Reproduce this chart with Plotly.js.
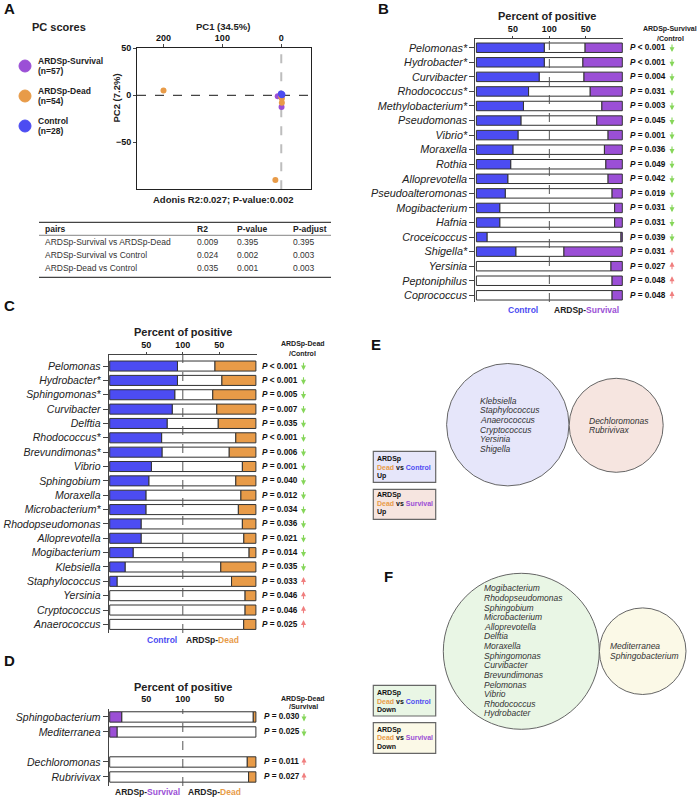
<!DOCTYPE html>
<html>
<head>
<meta charset="utf-8">
<script src="https://cdn.plot.ly/plotly-3.0.1.min.js"></script>
<style>html,body{margin:0;padding:0;background:#fff;}#chart{width:699px;height:798px;}</style>
</head>
<body>
<div id="chart"></div>
<script>
// ---------------- DATA ----------------
// Panel A: PCoA scores
const groupNames = ['ARDSp-Survival', 'ARDSp-Dead', 'Control'];
const groupN = [57, 54, 28];
const survPC1 = [6, 0.5, -0.5, 1];
const survPC2 = [-1, -1, -12.5, 0.5];
const deadPC1 = [200, 10, -1, -1, 0];
const deadPC2 = [5, -90, -3.5, -8, -1.5];
const ctrlPC1 = [-1, -1, 0, -2, 0.5];
const ctrlPC2 = [1.5, 0, 1, 0.5, 2];
const pc1Ticks = [200, 100, 0];
const pc2Ticks = [50, 0, -50];

// Adonis pairwise table
const tableHeader = ['pairs', 'R2', 'P-value', 'P-adjust'];
const tablePairs = ['ARDSp-Survival vs ARDSp-Dead', 'ARDSp-Survival vs Control', 'ARDSp-Dead vs Control'];
const tableR2 = ['0.009', '0.024', '0.035'];
const tablePval = ['0.395', '0.002', '0.001'];
const tablePadj = ['0.395', '0.003', '0.003'];

// Panel B: Control vs ARDSp-Survival (percent positive)
const bNames = ['Pelomonas*', 'Hydrobacter*', 'Curvibacter', 'Rhodococcus*', 'Methylobacterium*', 'Pseudomonas', 'Vibrio*', 'Moraxella', 'Rothia', 'Alloprevotella', 'Pseudoalteromonas', 'Mogibacterium', 'Hafnia', 'Croceicoccus', 'Shigella*', 'Yersinia', 'Peptoniphilus', 'Coprococcus'];
const bControl = [93, 93, 86, 71.5, 64.5, 61, 57, 50, 47, 43, 39.5, 32, 32, 14.5, 54, 0, 0, 0];
const bSurvival = [51, 54, 52.5, 44, 28, 35, 19.5, 24.5, 22.5, 19.5, 14, 10.5, 10.5, 1.8, 80, 15.5, 14, 14];
const bP = ['< 0.001', '< 0.001', '= 0.004', '= 0.031', '= 0.003', '= 0.045', '= 0.001', '= 0.036', '= 0.049', '= 0.042', '= 0.019', '= 0.031', '= 0.031', '= 0.039', '= 0.031', '= 0.027', '= 0.048', '= 0.048'];
const bDir = ['down', 'down', 'down', 'down', 'down', 'down', 'down', 'down', 'down', 'down', 'down', 'down', 'down', 'down', 'up', 'up', 'up', 'up'];

// Panel C: Control vs ARDSp-Dead
const cNames = ['Pelomonas', 'Hydrobacter*', 'Sphingomonas*', 'Curvibacter', 'Delftia', 'Rhodococcus*', 'Brevundimonas*', 'Vibrio', 'Sphingobium', 'Moraxella', 'Microbacterium*', 'Rhodopseudomonas', 'Alloprevotella', 'Mogibacterium', 'Klebsiella', 'Staphylococcus', 'Yersinia', 'Cryptococcus', 'Anaerococcus'];
const cControl = [92.7, 92.7, 89, 85.5, 78.5, 71, 71.5, 57, 53.5, 49.5, 49.5, 42.9, 42.9, 32, 21, 10, 0, 0, 0];
const cDead = [56, 46.5, 59, 53.5, 51.5, 27.5, 36.5, 18.5, 27.5, 20.5, 24, 18.5, 16.5, 9.3, 48, 33.3, 14.8, 14.8, 16.7];
const cP = ['< 0.001', '< 0.001', '= 0.005', '= 0.007', '= 0.035', '< 0.001', '= 0.006', '= 0.001', '= 0.040', '= 0.012', '= 0.034', '= 0.036', '= 0.021', '= 0.014', '= 0.035', '= 0.033', '= 0.046', '= 0.046', '= 0.025'];
const cDir = ['down', 'down', 'down', 'down', 'down', 'down', 'down', 'down', 'down', 'down', 'down', 'down', 'down', 'down', 'down', 'up', 'up', 'up', 'up'];

// Panel D: ARDSp-Survival vs ARDSp-Dead
const dNames = ['Sphingobacterium', 'Mediterranea', 'Dechloromonas', 'Rubrivivax'];
const dSurvival = [16.4, 10, 0, 0];
const dDead = [3.6, 0, 11.8, 10];
const dP = ['= 0.030', '= 0.025', '= 0.011', '= 0.027'];
const dDir = ['down', 'down', 'up', 'up'];

// Percent axis ticks
const pctTickVals = [-50, 0, 50];
const pctTickText = ['50', '100', '50'];

// Panels E / F: Venn sets
const vennEup1 = ['Klebsiella', 'Staphylococcus', 'Anaerococcus', 'Cryptococcus', 'Yersinia', 'Shigella'];
const vennEup2 = ['Dechloromonas', 'Rubrivivax'];
const vennFdown1 = ['Mogibacterium', 'Rhodopseudomonas', 'Sphingobium', 'Microbacterium', 'Alloprevotella', 'Delftia', 'Moraxella', 'Sphingomonas', 'Curvibacter', 'Brevundimonas', 'Pelomonas', 'Vibrio', 'Rhodococcus', 'Hydrobacter'];
const vennFdown2 = ['Mediterranea', 'Sphingobacterium'];

// ---------------- STYLE ----------------
const W = 699, H = 798;
const X = p => p / W, Y = p => 1 - p / H;
const FONT = 'Liberation Sans, Arial, Helvetica, sans-serif';
const BLUE = '#4c4cf2', PURPLE = '#9b4fd6', ORANGE = '#e89b48';
const GREEN_ARROW = '#86d65a', RED_ARROW = '#f07f7f';
const OUT = '#333333';
const sBlue = `<span style="color:${BLUE}">`, sPur = `<span style="color:${PURPLE}">`, sOr = `<span style="color:${ORANGE}">`;

const annotations = [];
const shapes = [];
function ann(text, px, py, o = {}) {
  annotations.push(Object.assign({
    text, x: X(px), y: Y(py), xref: 'paper', yref: 'paper', showarrow: false,
    xanchor: 'center', yanchor: 'middle',
    font: { family: FONT, size: o.size || 9, color: o.color || '#222' }
  }, o.extra || {}, { xanchor: o.xa || 'center' }));
}
function circlePx(cx, cy, r, fill, line) {
  shapes.push({ type: 'circle', xref: 'paper', yref: 'paper', x0: X(cx - r), x1: X(cx + r), y0: Y(cy + r), y1: Y(cy - r),
    fillcolor: fill, line: { color: line || '#666', width: 1 }, layer: 'below' });
}
function rectPx(x0, y0, x1, y1, fill, line) {
  shapes.push({ type: 'rect', xref: 'paper', yref: 'paper', x0: X(x0), x1: X(x1), y0: Y(y1), y1: Y(y0),
    fillcolor: fill, line: { color: line || '#666', width: 1.2 }, layer: 'below' });
}
function linePx(x0, y0, x1, y1, w, c) {
  shapes.push({ type: 'line', xref: 'paper', yref: 'paper', x0: X(x0), x1: X(x1), y0: Y(y0), y1: Y(y1), line: { color: c || '#444', width: w } });
}

const traces = [];

// ---------------- PANEL A ----------------
traces.push({ type: 'scatter', mode: 'markers', x: survPC1, y: survPC2, xaxis: 'x', yaxis: 'y', marker: { color: PURPLE, size: 6 }, showlegend: false, hoverinfo: 'skip' });
traces.push({ type: 'scatter', mode: 'markers', x: deadPC1, y: deadPC2, xaxis: 'x', yaxis: 'y', marker: { color: ORANGE, size: 6 }, showlegend: false, hoverinfo: 'skip' });
traces.push({ type: 'scatter', mode: 'markers', x: ctrlPC1, y: ctrlPC2, xaxis: 'x', yaxis: 'y', marker: { color: BLUE, size: 6 }, showlegend: false, hoverinfo: 'skip' });
shapes.push({ type: 'line', xref: 'x', yref: 'y domain', x0: 0, x1: 0, y0: 0, y1: 1, line: { color: '#bdbdbd', width: 2, dash: 'dash' }, layer: 'below' });
shapes.push({ type: 'line', xref: 'x domain', yref: 'y', x0: 0, x1: 1, y0: 0, y1: 0, line: { color: '#444', width: 1.2, dash: 'dash' }, layer: 'below' });

ann('<b>A</b>', 9, 9, { size: 15, color: '#111' });
ann('<b>PC scores</b>', 59, 27, { size: 11 });
const legColors = [PURPLE, ORANGE, BLUE];
const legY = [66, 96, 126];
groupNames.forEach((g, i) => {
  circlePx(25, legY[i], 6, legColors[i], legColors[i]);
  ann(`<b>${g}</b>`, 36, legY[i] - 5, { size: 8.5, xa: 'left' });
  ann(`<b>(n=${groupN[i]})</b>`, 36, legY[i] + 5, { size: 8.5, xa: 'left' });
});
ann('<b>PC1 (34.5%)</b>', 223, 26.5, { size: 9.5 });
ann('<b>PC2 (7.2%)</b>', 116.5, 98, { size: 9.5, extra: { textangle: -90 } });
ann('<b>Adonis R2:0.027; P-value:0.002</b>', 223, 199, { size: 9.5 });

// table
const colX = [42.5, 195, 235, 290.5];
const rowY = [242.3, 255, 267.7];
linePx(39, 222.3, 331, 222.3, 1.3, '#444');
linePx(39, 235.3, 331, 235.3, 0.8, '#666');
linePx(39, 277.3, 331, 277.3, 1.3, '#444');
tableHeader.forEach((h, j) => ann(`<b>${h}</b>`, colX[j], 229.3, { size: 8.5, xa: 'left' }));
tablePairs.forEach((p, i) => {
  ann(p, colX[0], rowY[i], { size: 8.5, xa: 'left', color: '#333' });
  ann(tableR2[i], colX[1], rowY[i], { size: 8.5, xa: 'left', color: '#333' });
  ann(tablePval[i], colX[2], rowY[i], { size: 8.5, xa: 'left', color: '#333' });
  ann(tablePadj[i], colX[3], rowY[i], { size: 8.5, xa: 'left', color: '#333' });
});

// ---------------- BAR PANELS ----------------
function barPanel(ax, names, leftVals, rightVals, leftColor, rightColor, pos) {
  const xa = 'x' + ax, ya = 'y' + ax;
  const yv = names.map((n, i) => pos[i]);
  const lineSpec = { color: OUT, width: 1 };
  traces.push({ type: 'bar', orientation: 'h', xaxis: xa, yaxis: ya, y: yv,
    x: leftVals.map((v, i) => 200 - v - rightVals[i]), base: leftVals.map(v => -100 + v),
    marker: { color: '#ffffff', line: lineSpec }, width: pos.bw, showlegend: false, hoverinfo: 'skip' });
  traces.push({ type: 'bar', orientation: 'h', xaxis: xa, yaxis: ya, y: yv,
    x: leftVals.map(v => v > 0 ? v : null), base: leftVals.map(() => -100),
    marker: { color: leftColor, line: lineSpec }, width: pos.bw, showlegend: false, hoverinfo: 'skip' });
  traces.push({ type: 'bar', orientation: 'h', xaxis: xa, yaxis: ya, y: yv,
    x: rightVals.map(v => v > 0 ? v : null), base: rightVals.map(v => 100 - v),
    marker: { color: rightColor, line: lineSpec }, width: pos.bw, showlegend: false, hoverinfo: 'skip' });
  shapes.push({ type: 'line', xref: xa, yref: ya + ' domain', x0: 0, x1: 0, y0: 0, y1: 1, line: { color: '#555', width: 1, dash: 'dash' }, layer: 'above' });
}
function pctAxis(domPx, showTop) {
  return { domain: [X(domPx[0]), X(domPx[1])], range: [-101.5, 101.5], side: 'top', showgrid: false, zeroline: false,
    showline: showTop, linecolor: '#444', linewidth: 1, ticks: 'outside', ticklen: 2, tickcolor: showTop ? '#444' : 'rgba(0,0,0,0)',
    tickvals: pctTickVals, ticktext: pctTickText, tickfont: { family: FONT, size: 9, color: '#111', weight: 'bold' }, fixedrange: true };
}
function catAxis(domPx, pos, names, range, fs) {
  return { domain: [Y(domPx[1]), Y(domPx[0])], range, showgrid: false, zeroline: false, showline: true, linecolor: '#444', linewidth: 1,
    ticks: 'outside', ticklen: 5, tickcolor: '#444', tickvals: pos, ticktext: names.map(n => `<i>${n}</i>`),
    tickfont: { family: FONT, size: fs, color: '#222' }, fixedrange: true };
}
function pLabels(ya, pos, pv, dir, pxText, pxArrow) {
  pv.forEach((p, i) => {
    annotations.push({ text: `<b><i>P</i> ${p}</b>`, x: X(pxText), xref: 'paper', y: pos[i], yref: ya, showarrow: false, xanchor: 'left', yanchor: 'middle', font: { family: FONT, size: 8.2, color: '#111' } });
    const down = dir[i] === 'down';
    annotations.push({ text: '', x: X(pxArrow), xref: 'paper', y: pos[i] + (down ? 0.3 : -0.3), yref: ya,
      showarrow: true, ax: 0, ay: down ? -9 : 9, arrowhead: 2, arrowsize: 0.9, arrowwidth: 1.1, standoff: 0,
      arrowcolor: down ? GREEN_ARROW : RED_ARROW });
  });
}

// B
const bPos = bNames.map((n, i) => i); bPos.bw = 0.65;
barPanel(2, bNames, bControl, bSurvival, BLUE, PURPLE, bPos);
pLabels('y2', bPos, bP, bDir, 627.5, 672);
ann('<b>B</b>', 383, 8, { size: 15, color: '#111' });
ann('<b>Percent of positive</b>', 547, 16.5, { size: 11 });
ann('<b>ARDSp-Survival</b>', 670, 29.3, { size: 7 });
ann('<b>/Control</b>', 670, 38.3, { size: 7 });
ann(`<b>${sBlue}Control</span></b>`, 522.5, 309.5, { size: 8.5 });
ann(`<b>ARDSp-${sPur}Survival</span></b>`, 586.5, 309.5, { size: 8.5 });

// C
const cPos = cNames.map((n, i) => i); cPos.bw = 0.7;
barPanel(3, cNames, cControl, cDead, BLUE, ORANGE, cPos);
pLabels('y3', cPos, cP, cDir, 260, 303.5);
ann('<b>C</b>', 9, 306, { size: 15, color: '#111' });
ann('<b>Percent of positive</b>', 183, 332, { size: 11 });
ann('<b>ARDSp-Dead</b>', 302.7, 344, { size: 7 });
ann('<b>/Control</b>', 302.7, 353.3, { size: 7 });
ann(`<b>${sBlue}Control</span></b>`, 162.3, 639.5, { size: 8.5 });
ann(`<b>ARDSp-${sOr}Dead</span></b>`, 212.5, 639.5, { size: 8.5 });

// D
const dPos = dDir.map((d, i) => i + (d === 'up' ? 1 : 0)); dPos.bw = 0.69;
barPanel(4, dNames, dSurvival, dDead, PURPLE, ORANGE, dPos);
pLabels('y4', dPos, dP, dDir, 261.7, 304);
ann('<b>D</b>', 9, 660, { size: 15, color: '#111' });
ann('<b>Percent of positive</b>', 183, 687, { size: 11 });
ann('<b>ARDSp-Dead</b>', 303.3, 699.3, { size: 7 });
ann('<b>/Survival</b>', 303.3, 706.7, { size: 7 });
ann(`<b>ARDSp-${sPur}Survival</span></b>`, 147.5, 792.3, { size: 8.5 });
ann(`<b>ARDSp-${sOr}Dead</span></b>`, 214.5, 792.3, { size: 8.5 });

// ---------------- PANEL E ----------------
const E1 = '#e6e6fa', E2 = '#f6e5e0', F1 = '#e9f6e5', F2 = '#fbf9e7';
ann('<b>E</b>', 376, 344.5, { size: 15, color: '#111' });
circlePx(507.8, 424.7, 61.2, E1);
circlePx(616.2, 425.3, 47, E2);
vennEup1.forEach((g, i) => ann(`<i>${g}</i>`, 478.3, 400.7 + i * 9.65, { size: 8.5, xa: 'left', color: '#333' }));
vennEup2.forEach((g, i) => ann(`<i>${g}</i>`, 586.7, 420.7 + i * 9.65, { size: 8.5, xa: 'left', color: '#333' }));
rectPx(373.3, 451.3, 435.7, 482.3, E1);
ann('<b>ARDSp</b>', 375, 459, { size: 7, xa: 'left', color: '#111' });
ann(`<b>${sOr}Dead</span> vs ${sBlue}Control</span></b>`, 375, 467.3, { size: 7, xa: 'left', color: '#111' });
ann('<b>Up</b>', 375, 475.7, { size: 7, xa: 'left', color: '#111' });
rectPx(373.3, 489.3, 435.7, 519.3, E2);
ann('<b>ARDSp</b>', 375, 495, { size: 7, xa: 'left', color: '#111' });
ann(`<b>${sOr}Dead</span> vs ${sPur}Survival</span></b>`, 375, 503.7, { size: 7, xa: 'left', color: '#111' });
ann('<b>Up</b>', 375, 512.3, { size: 7, xa: 'left', color: '#111' });

// ---------------- PANEL F ----------------
ann('<b>F</b>', 388.5, 576, { size: 15, color: '#111' });
circlePx(521.3, 651.3, 78, F1);
circlePx(642.7, 651.2, 43.3, F2);
vennFdown1.forEach((g, i) => ann(`<i>${g}</i>`, 482.3, 588.3 + i * 9.62, { size: 8.5, xa: 'left', color: '#333' }));
vennFdown2.forEach((g, i) => ann(`<i>${g}</i>`, 608.3, 646 + i * 10, { size: 8.5, xa: 'left', color: '#333' }));
rectPx(373.3, 685.3, 435.7, 716, F1);
ann('<b>ARDSp</b>', 375, 693.3, { size: 7, xa: 'left', color: '#111' });
ann(`<b>${sOr}Dead</span> vs ${sBlue}Control</span></b>`, 375, 701.3, { size: 7, xa: 'left', color: '#111' });
ann('<b>Down</b>', 375, 709.7, { size: 7, xa: 'left', color: '#111' });
rectPx(373.3, 722.7, 435.7, 753.3, F2);
ann('<b>ARDSp</b>', 375, 729.7, { size: 7, xa: 'left', color: '#111' });
ann(`<b>${sOr}Dead</span> vs ${sPur}Survival</span></b>`, 375, 737.7, { size: 7, xa: 'left', color: '#111' });
ann('<b>Down</b>', 375, 746.3, { size: 7, xa: 'left', color: '#111' });

// ---------------- LAYOUT ----------------
const layout = {
  width: W, height: H, margin: { l: 0, r: 0, t: 0, b: 0 }, paper_bgcolor: '#fff', plot_bgcolor: 'rgba(0,0,0,0)',
  barmode: 'overlay', showlegend: false, font: { family: FONT },
  xaxis: { domain: [X(137), X(310.7)], range: [245, -50], side: 'top', anchor: 'y', showgrid: false, zeroline: false,
    showline: true, mirror: true, linecolor: '#222', linewidth: 1, ticks: 'outside', ticklen: 3, tickvals: pc1Ticks,
    tickfont: { family: FONT, size: 9, color: '#111', weight: 'bold' }, fixedrange: true },
  yaxis: { domain: [Y(189.3), Y(48.3)], range: [-100, 50], anchor: 'x', showgrid: false, zeroline: false,
    showline: true, mirror: true, linecolor: '#222', linewidth: 1, ticks: 'outside', ticklen: 3, tickvals: pc2Ticks,
    tickfont: { family: FONT, size: 9, color: '#111', weight: 'bold' }, fixedrange: true },
  xaxis2: Object.assign(pctAxis([475.3, 623.4], true), { anchor: 'y2' }),
  yaxis2: Object.assign(catAxis([39, 302], bPos, bNames, [17.46, -0.6], 10.8), { anchor: 'x2' }),
  xaxis3: Object.assign(pctAxis([108.6, 257], true), { anchor: 'y3' }),
  yaxis3: Object.assign(catAxis([355, 633], cPos, cNames, [18.6, -0.77], 10.5), { anchor: 'x3' }),
  xaxis4: Object.assign(pctAxis([108.6, 257], false), { anchor: 'y4' }),
  yaxis4: Object.assign(catAxis([709, 786], dPos, dNames, [4.6, -0.53], 10.5), { anchor: 'x4' }),
  annotations, shapes
};
Plotly.newPlot('chart', traces, layout, { displayModeBar: false, staticPlot: true });
</script>
</body>
</html>
